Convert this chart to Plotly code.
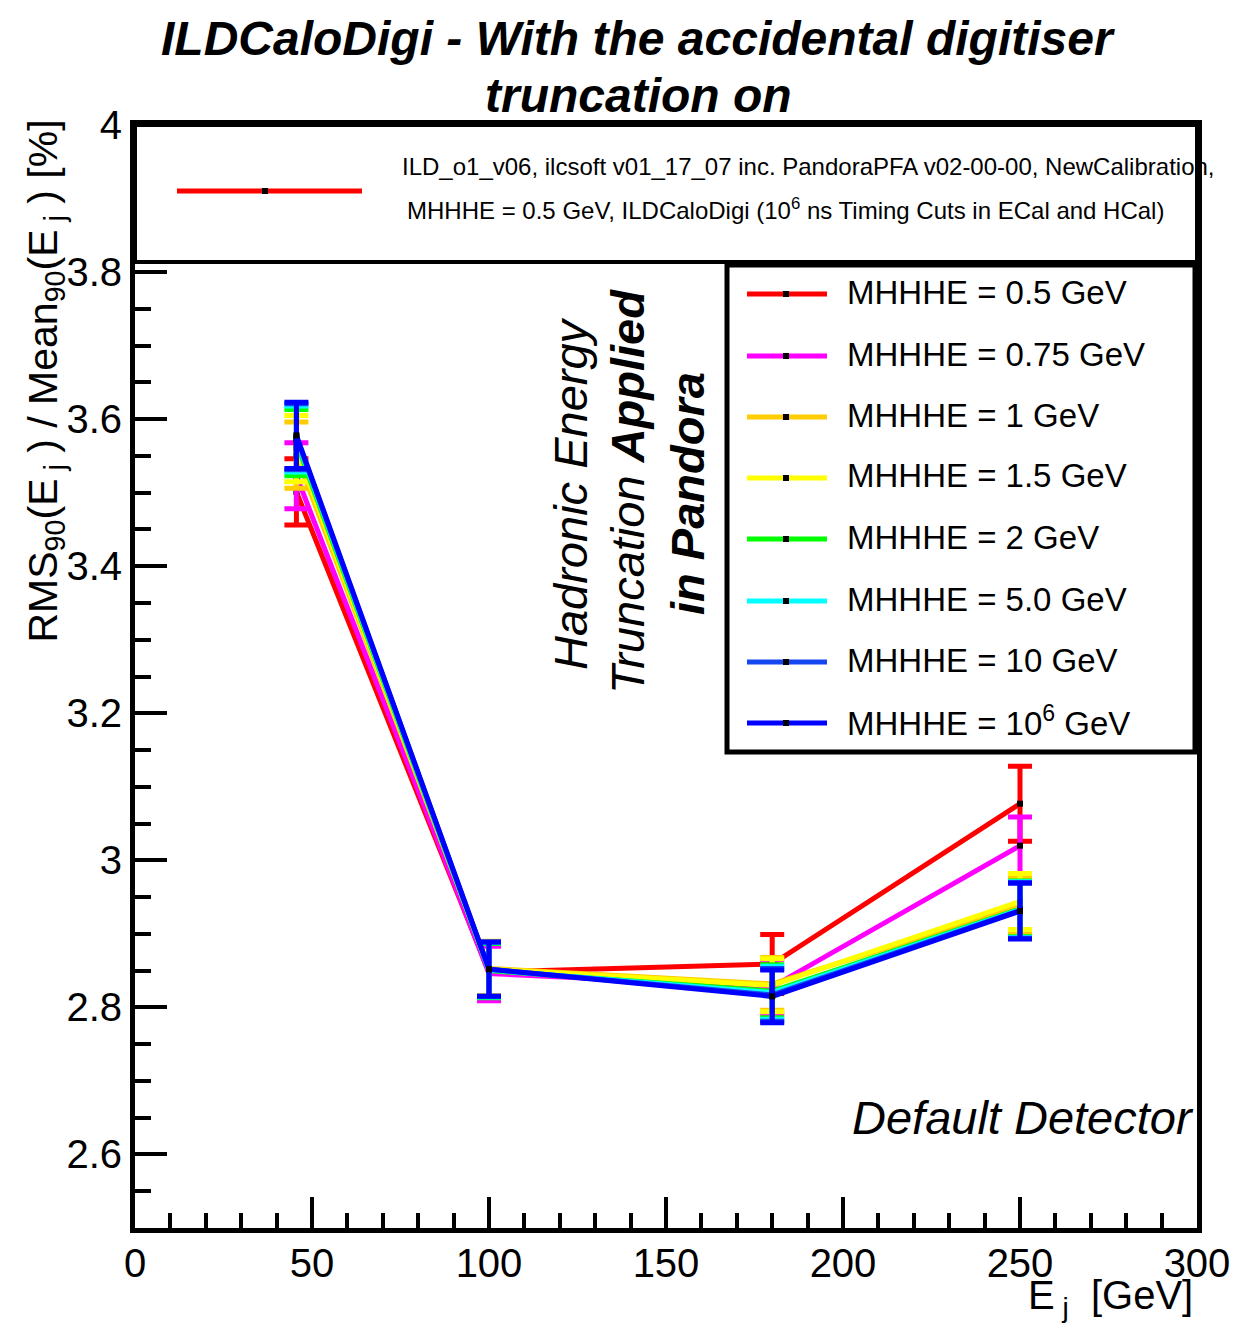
import plotly.graph_objects as go

# ---------------- data ----------------
energies = [45.6, 100, 180, 250]

labels = ["MHHHE = 0.5 GeV", "MHHHE = 0.75 GeV", "MHHHE = 1 GeV", "MHHHE = 1.5 GeV",
          "MHHHE = 2 GeV", "MHHHE = 5.0 GeV", "MHHHE = 10 GeV", "MHHHE = 10<sup>6</sup> GeV"]
colors = ["#ff0000", "#ff00ff", "#ffcc00", "#ffff00", "#00ff00", "#00ffff", "#1447f0", "#0000ff"]

rms_05 = [3.501, 2.848, 2.859, 3.077]
rms_075 = [3.523, 2.846, 2.828, 3.020]
rms_1 = [3.551, 2.853, 2.832, 2.938]
rms_15 = [3.560, 2.852, 2.830, 2.944]
rms_2 = [3.568, 2.850, 2.822, 2.934]
rms_5 = [3.573, 2.851, 2.820, 2.933]
rms_10 = [3.576, 2.852, 2.817, 2.932]
rms_1e6 = [3.578, 2.852, 2.815, 2.931]

err_05 = [0.045, 0.037, 0.040, 0.051]
err_075 = [0.045, 0.037, 0.037, 0.039]
err_1 = [0.045, 0.037, 0.036, 0.038]
err_15 = [0.045, 0.037, 0.036, 0.038]
err_2 = [0.045, 0.037, 0.036, 0.038]
err_5 = [0.045, 0.037, 0.036, 0.038]
err_10 = [0.045, 0.037, 0.036, 0.038]
err_1e6 = [0.045, 0.037, 0.036, 0.038]

values = [rms_05, rms_075, rms_1, rms_15, rms_2, rms_5, rms_10, rms_1e6]
errors = [err_05, err_075, err_1, err_15, err_2, err_5, err_10, err_1e6]

x_ticks = [0, 50, 100, 150, 200, 250, 300]
x_ticktext = ["0", "50", "100", "150", "200", "250", "300"]
y_ticks = [2.6, 2.8, 3.0, 3.2, 3.4, 3.6, 3.8, 4.0]
y_ticktext = ["2.6", "2.8", "3", "3.2", "3.4", "3.6", "3.8", "4"]

# ---------------- layout helpers ----------------
W, H = 1233, 1332
L, R, T, B = 135, 1197, 125, 1228
FONT = "Liberation Sans, Arial, Helvetica, sans-serif"


def px(x):
    return (x - L) / (R - L)


def py(y):
    return (B - y) / (B - T)


fig = go.Figure()

for vals, errs, col in zip(values, errors, colors):
    fig.add_trace(go.Scatter(
        x=energies, y=vals, mode="lines+markers",
        line=dict(color=col, width=5),
        marker=dict(symbol="square", size=6, color="black"),
        error_y=dict(type="data", array=errs, visible=True, color=col, thickness=5, width=12),
        showlegend=False,
    ))

shapes = []
annotations = []

# top legend box
shapes.append(dict(type="rect", xref="paper", yref="paper", x0=px(135), x1=px(1197), y0=py(262), y1=py(125),
                   line=dict(color="black", width=4), fillcolor="white", layer="above"))
shapes.append(dict(type="line", xref="paper", yref="paper", x0=px(177), x1=px(362), y0=py(191), y1=py(191),
                   line=dict(color="#ff0000", width=5), layer="above"))
shapes.append(dict(type="rect", xref="paper", yref="paper", x0=px(262), x1=px(268), y0=py(194), y1=py(188),
                   line=dict(width=0), fillcolor="black", layer="above"))
annotations.append(dict(xref="paper", yref="paper", x=px(400), y=py(166), xanchor="left", yanchor="middle",
                        text="ILD_o1_v06, ilcsoft v01_17_07 inc. PandoraPFA v02-00-00, NewCalibration,",
                        showarrow=False, font=dict(family=FONT, size=24, color="black")))
annotations.append(dict(xref="paper", yref="paper", x=px(405), y=py(209), xanchor="left", yanchor="middle",
                        text="MHHHE = 0.5 GeV, ILDCaloDigi (10<sup>6</sup> ns Timing Cuts in ECal and HCal)",
                        showarrow=False, font=dict(family=FONT, size=24, color="black")))

# main legend box
shapes.append(dict(type="rect", xref="paper", yref="paper", x0=px(727), x1=px(1195), y0=py(752), y1=py(265),
                   line=dict(color="black", width=5), fillcolor="white", layer="above"))
leg_y = [294, 356, 417, 478, 539, 601, 662, 723]
for yy, col, lab in zip(leg_y, colors, labels):
    shapes.append(dict(type="line", xref="paper", yref="paper", x0=px(747), x1=px(827), y0=py(yy), y1=py(yy),
                       line=dict(color=col, width=5), layer="above"))
    shapes.append(dict(type="rect", xref="paper", yref="paper", x0=px(783), x1=px(789), y0=py(yy + 3), y1=py(yy - 3),
                       line=dict(width=0), fillcolor="black", layer="above"))
    annotations.append(dict(xref="paper", yref="paper", x=px(845), y=py(yy - 2), xanchor="left", yanchor="middle",
                            text=lab, showarrow=False, font=dict(family=FONT, size=33, color="black")))

# title
annotations.append(dict(xref="paper", yref="paper", x=px(638), y=py(38), xanchor="center", yanchor="middle",
                        text="<b><i>ILDCaloDigi - With the accidental digitiser</i></b>", showarrow=False,
                        font=dict(family=FONT, size=48, color="black")))
annotations.append(dict(xref="paper", yref="paper", x=px(638), y=py(96), xanchor="center", yanchor="middle",
                        text="<b><i>truncation on</i></b>", showarrow=False,
                        font=dict(family=FONT, size=48, color="black")))

# axis titles
annotations.append(dict(xref="paper", yref="paper", x=px(45), y=py(118), xanchor="center", yanchor="top",
                        textangle=-90,
                        text="RMS<sub>90</sub>(E<sub> j</sub> ) / Mean<sub>90</sub>(E<sub> j</sub> ) [%]",
                        showarrow=False, font=dict(family=FONT, size=41, color="black")))
annotations.append(dict(xref="paper", yref="paper", x=px(1195), y=py(1298), xanchor="right", yanchor="middle",
                        text="E<sub> j</sub>&nbsp; [GeV]", showarrow=False,
                        font=dict(family=FONT, size=40, color="black")))

# rotated text
annotations.append(dict(xref="paper", yref="paper", x=px(570), y=py(494), xanchor="center", yanchor="middle",
                        textangle=-90, text="<i>Hadronic Energy</i>", showarrow=False,
                        font=dict(family=FONT, size=47, color="black")))
annotations.append(dict(xref="paper", yref="paper", x=px(627), y=py(492), xanchor="center", yanchor="middle",
                        textangle=-90, text="<i>Truncation</i> <b><i>Applied</i></b>", showarrow=False,
                        font=dict(family=FONT, size=47, color="black")))
annotations.append(dict(xref="paper", yref="paper", x=px(687), y=py(494), xanchor="center", yanchor="middle",
                        textangle=-90, text="<b><i>in Pandora</i></b>", showarrow=False,
                        font=dict(family=FONT, size=47, color="black")))

annotations.append(dict(xref="paper", yref="paper", x=px(1196), y=py(1117), xanchor="right", yanchor="middle",
                        text="<i>Default Detector</i>", showarrow=False,
                        font=dict(family=FONT, size=47, color="black")))

fig.update_layout(
    width=W, height=H,
    margin=dict(l=L, r=W - R, t=T, b=H - B, pad=0, autoexpand=False),
    paper_bgcolor="white", plot_bgcolor="white",
    shapes=shapes, annotations=annotations,
    font=dict(family=FONT, color="black"),
    xaxis=dict(range=[0, 300], tickmode="array", tickvals=x_ticks, ticktext=x_ticktext,
               ticks="inside", ticklen=31, tickwidth=4, tickcolor="black",
               minor=dict(ticks="inside", ticklen=15, tickwidth=4, tickcolor="black", tickmode="linear",
                          tick0=0, dtick=10),
               showline=True, linewidth=5, linecolor="black", mirror=True, showgrid=False, zeroline=False,
               automargin=False, ticklabelstandoff=-4,
               tickfont=dict(family=FONT, size=40, color="black")),
    yaxis=dict(range=[2.5, 4.0], tickmode="array", tickvals=y_ticks, ticktext=y_ticktext,
               ticks="inside", ticklen=32, tickwidth=4, tickcolor="black",
               minor=dict(ticks="inside", ticklen=16, tickwidth=4, tickcolor="black", tickmode="linear",
                          tick0=2.5, dtick=0.05),
               showline=True, linewidth=5, linecolor="black", mirror=True, showgrid=False, zeroline=False,
               automargin=False,
               tickfont=dict(family=FONT, size=40, color="black")),
)

fig.write_html("out.html")
